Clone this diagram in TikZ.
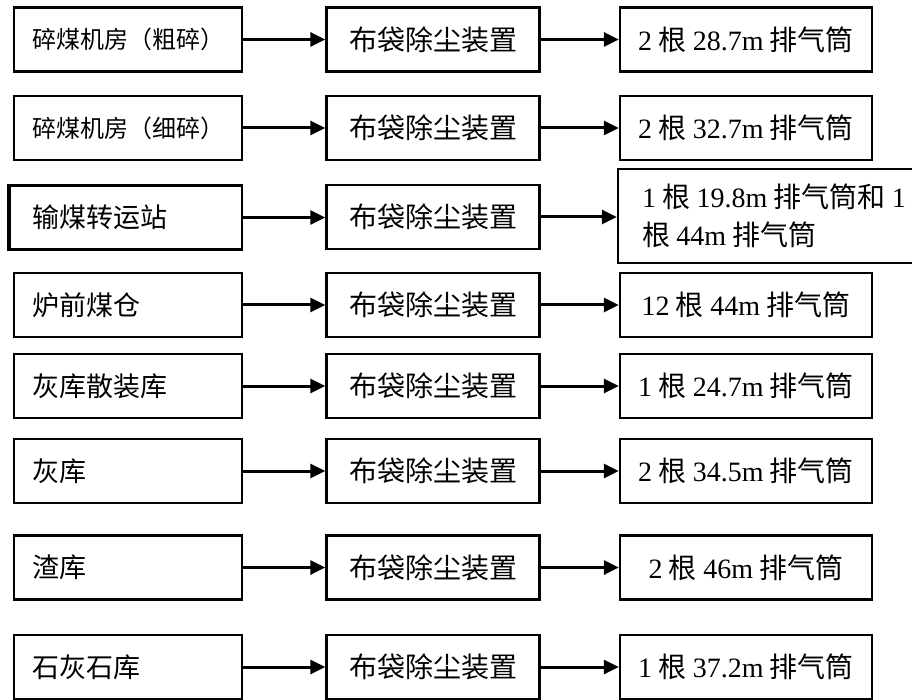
\documentclass[tikz,border=0pt]{standalone}
\usepackage{fontspec}
\setmainfont{Noto Sans CJK SC}
\newfontfamily\num{Liberation Serif}
\usetikzlibrary{arrows.meta}

\begin{document}
\begin{tikzpicture}[x=1pt,y=-1pt,
  box/.style={draw,line width=2.3pt,minimum height=64pt,inner sep=0pt},
  flow/.style={line width=3pt,-{Triangle[length=15pt,width=14pt]}}]
  \useasboundingbox (0,0) rectangle (912,700);
  \foreach \i/\y/\fs/\src/\dst in {1/39.5/24/碎煤机房（粗碎）/{\num 2} 根 {\num 28.7m} 排气筒,
      2/128/24/碎煤机房（细碎）/{\num 2} 根 {\num 32.7m} 排气筒,
      4/305/27/炉前煤仓/{\num 12} 根 {\num 44m} 排气筒,
      5/386/27/灰库散装库/{\num 1} 根 {\num 24.7m} 排气筒,
      6/471/27/灰库/{\num 2} 根 {\num 34.5m} 排气筒,
      7/567.5/27/渣库/{\num 2} 根 {\num 46m} 排气筒,
      8/667/27/石灰石库/{\num 1} 根 {\num 37.2m} 排气筒}{
    \node[box,minimum width=228pt,text width=192pt,align=left,font=\fontsize{\fs}{\fs}\selectfont] (src\i) at (128,\y){\src};
    \node[box,minimum width=213pt,font=\fontsize{28}{30}\selectfont] (bag\i) at (433,\y){布袋除尘装置};
    \node[box,minimum width=252pt,font=\fontsize{28}{30}\selectfont] (stack\i) at (746,\y){\dst};
    \draw[flow] (src\i) -- (bag\i);
    \draw[flow] (bag\i) -- (stack\i);
  }
  % the transfer station has two stacks
  \node[box,minimum width=232pt,text width=188pt,align=left,font=\fontsize{27}{27}\selectfont] (src3) at (126,217.5){输煤转运站};
  \draw[line width=3.5pt] (src3.north west) -- (src3.south west);
  \node[box,minimum width=213pt,font=\fontsize{28}{30}\selectfont] (bag3) at (433,217){布袋除尘装置};
  \node[box,minimum width=312pt,minimum height=94pt,align=left,font=\fontsize{28}{38}\selectfont] (stack3) at (774,216){{\num 1} 根 {\num 19.8m} 排气筒和 {\num 1}\\根 {\num 44m} 排气筒};
  \draw[flow] (src3.east) -- (src3.east -| bag3.west);
  \draw[flow] (bag3.east) -- (bag3.east -| stack3.west);
\end{tikzpicture}
\end{document}
